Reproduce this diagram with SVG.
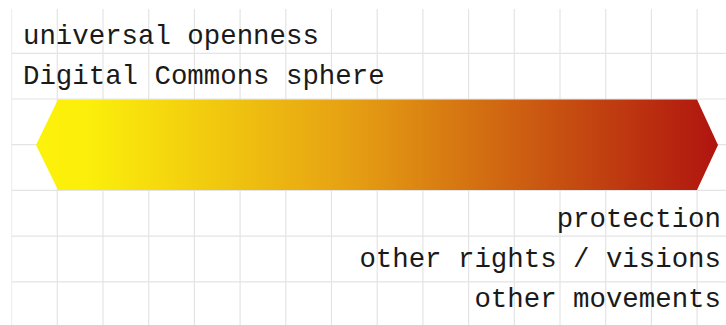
<svg xmlns="http://www.w3.org/2000/svg" width="726" height="325" viewBox="0 0 726 325">
<style>
.g{stroke:#e4e4e4;stroke-width:1.2;fill:none}
.t{font-family:"Liberation Mono","DejaVu Sans Mono",monospace;font-size:27.4px;fill:#1a1a1a}
</style>
<defs>
<linearGradient id="grad" x1="36" y1="0" x2="718" y2="0" gradientUnits="userSpaceOnUse">
<stop offset="0" stop-color="#fdf20a"/>
<stop offset="0.08" stop-color="#fbee0b"/>
<stop offset="0.46" stop-color="#e6a013"/>
<stop offset="1" stop-color="#b0140f"/>
</linearGradient>
</defs>
<g id="grid">
<path class="g" style="stroke:#f0f0f0" d="M11.6 9V325"/>
<path class="g" d="M57.3 9V325M103 9V325M148.7 9V325M194.4 9V325M240.1 9V325M285.8 9V325M331.5 9V325M377.2 9V325M422.9 9V325M468.6 9V325M514.3 9V325M560 9V325M605.7 9V325M651.4 9V325M697.1 9V325"/>
<path class="g" d="M12 53.3H726M12 99H726M12 144.7H726M12 190.4H726M12 236.1H726M12 281.8H726"/>
</g>
<g id="bar">
<polygon points="36,145 58,99.5 697,99.5 718,145 697,190 58,190" fill="url(#grad)"/>
</g>
<g id="labels-left">
<text class="t" x="23" y="44">universal openness</text>
<text class="t" x="23" y="84">Digital Commons sphere</text>
</g>
<g id="labels-right">
<text class="t" x="721" y="227" text-anchor="end">protection</text>
<text class="t" x="721" y="267" text-anchor="end">other rights / visions</text>
<text class="t" x="721" y="307" text-anchor="end">other movements</text>
</g>
</svg>
